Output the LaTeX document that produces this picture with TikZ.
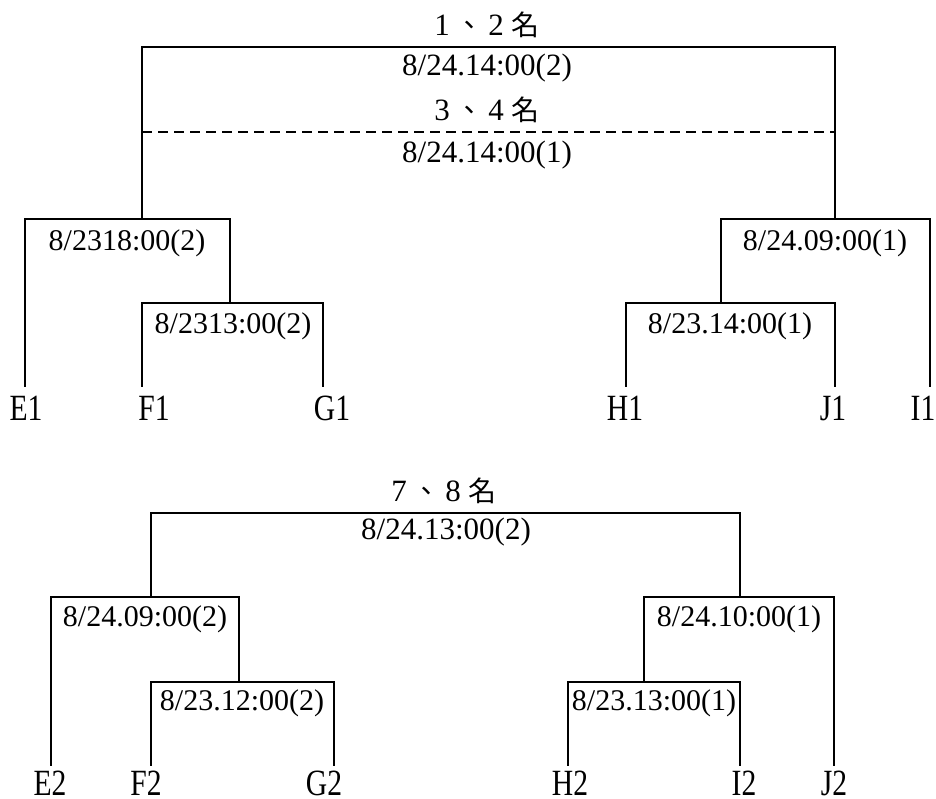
\documentclass[tikz,border=0pt]{standalone}
\usepackage{fontspec}
\usepackage{graphicx}
\setmainfont{Liberation Serif}
\newfontfamily\cjk{Noto Sans CJK TC}
\tikzset{
  x=1pt, y=-1pt,
  bracket/.style={line width=2.3pt, line join=miter, line cap=rect},
  dashline/.style={line width=1.3pt, dash pattern=on 10pt off 6pt},
  datelbl/.style={inner sep=0pt, font=\fontsize{30}{36}\selectfont},
  toplbl/.style={inner sep=0pt, font=\fontsize{31}{37}\selectfont},
  ranklbl/.style={inner sep=0pt, font=\fontsize{31}{37}\selectfont},
  leaflbl/.style={inner sep=0pt, font=\fontsize{37}{43}\selectfont},
}
\newcommand{\rk}[2]{#1\,{\cjk\fontsize{28}{34}\selectfont 、}\,#2\ {\cjk\fontsize{28}{34}\selectfont 名}}
\newcommand{\lf}[1]{\scalebox{0.8}[1]{#1}}
\begin{document}
\begin{tikzpicture}
\useasboundingbox (0,0) rectangle (936,798);
% ---------- upper bracket ----------
\coordinate (t1L) at (142,47);
\coordinate (t1R) at (835,47);
\coordinate (aTop) at (142,219);
\coordinate (cTop) at (835,219);
\coordinate (aL) at (25,219);
\coordinate (aR) at (230,219);
\coordinate (bTop) at (230,303);
\coordinate (bL) at (142,303);
\coordinate (bR) at (323,303);
\coordinate (cL) at (721,219);
\coordinate (cR) at (930,219);
\coordinate (dTop) at (721,303);
\coordinate (dL) at (626,303);
\coordinate (dR) at (835,303);
\coordinate (e1f) at (25,386);
\coordinate (f1f) at (142,386);
\coordinate (g1f) at (323,386);
\coordinate (h1f) at (626,386);
\coordinate (j1f) at (835,386);
\coordinate (i1f) at (930,386);
\coordinate (dashL) at (142,132);
\coordinate (dashR) at (835,132);

\draw[bracket] (aTop) -- (t1L) -- (t1R) -- (cTop);
\draw[dashline] (dashL) -- (dashR);
\draw[bracket] (e1f) -- (aL) -- (aR) -- (bTop);
\draw[bracket] (f1f) -- (bL) -- (bR) -- (g1f);
\draw[bracket] (dTop) -- (cL) -- (cR) -- (i1f);
\draw[bracket] (h1f) -- (dL) -- (dR) -- (j1f);

\node[ranklbl] (r12) at (487,25) {\rk{1}{2}};
\node[toplbl] (m12) at (487,68) {8/24.14:00(2)};
\node[ranklbl] (r34) at (487,110) {\rk{3}{4}};
\node[toplbl] (m34) at (487,155) {8/24.14:00(1)};
\node[datelbl] (ma) at (127,243) {8/2318:00(2)};
\node[datelbl] (mb) at (233,326) {8/2313:00(2)};
\node[datelbl] (mc) at (825,243) {8/24.09:00(1)};
\node[datelbl] (md) at (730,326) {8/23.14:00(1)};

\node[leaflbl] (E1) at (26,408) {\lf{E1}};
\node[leaflbl] (F1) at (154,408) {\lf{F1}};
\node[leaflbl] (G1) at (332,408) {\lf{G1}};
\node[leaflbl] (H1) at (625,408) {\lf{H1}};
\node[leaflbl] (J1) at (833,408) {\lf{J1}};
\node[leaflbl] (I1) at (923,408) {\lf{I1}};

% ---------- lower bracket ----------
\coordinate (t2L) at (151,513);
\coordinate (t2R) at (740,513);
\coordinate (eTop) at (151,597);
\coordinate (gTop) at (740,597);
\coordinate (eL) at (51,597);
\coordinate (eR) at (239,597);
\coordinate (fTop) at (239,682);
\coordinate (fL) at (151,682);
\coordinate (fR) at (334,682);
\coordinate (gL) at (644,597);
\coordinate (gR) at (834,597);
\coordinate (hTop) at (644,682);
\coordinate (hL) at (568,682);
\coordinate (hR) at (740,682);
\coordinate (e2f) at (51,765);
\coordinate (f2f) at (151,765);
\coordinate (g2f) at (334,765);
\coordinate (h2f) at (568,765);
\coordinate (i2f) at (740,765);
\coordinate (j2f) at (834,765);

\draw[bracket] (eTop) -- (t2L) -- (t2R) -- (gTop);
\draw[bracket] (e2f) -- (eL) -- (eR) -- (fTop);
\draw[bracket] (f2f) -- (fL) -- (fR) -- (g2f);
\draw[bracket] (hTop) -- (gL) -- (gR) -- (j2f);
\draw[bracket] (h2f) -- (hL) -- (hR) -- (i2f);

\node[ranklbl] (r78) at (444,491) {\rk{7}{8}};
\node[toplbl] (m78) at (446,532) {8/24.13:00(2)};
\node[datelbl] (me) at (145,619) {8/24.09:00(2)};
\node[datelbl] (mf) at (242,703) {8/23.12:00(2)};
\node[datelbl] (mg) at (739,619) {8/24.10:00(1)};
\node[datelbl] (mh) at (654,703) {8/23.13:00(1)};

\node[leaflbl] (E2) at (50,783) {\lf{E2}};
\node[leaflbl] (F2) at (146,783) {\lf{F2}};
\node[leaflbl] (G2) at (324,783) {\lf{G2}};
\node[leaflbl] (H2) at (570,783) {\lf{H2}};
\node[leaflbl] (I2) at (744,783) {\lf{I2}};
\node[leaflbl] (J2) at (834,783) {\lf{J2}};
\end{tikzpicture}
\end{document}
